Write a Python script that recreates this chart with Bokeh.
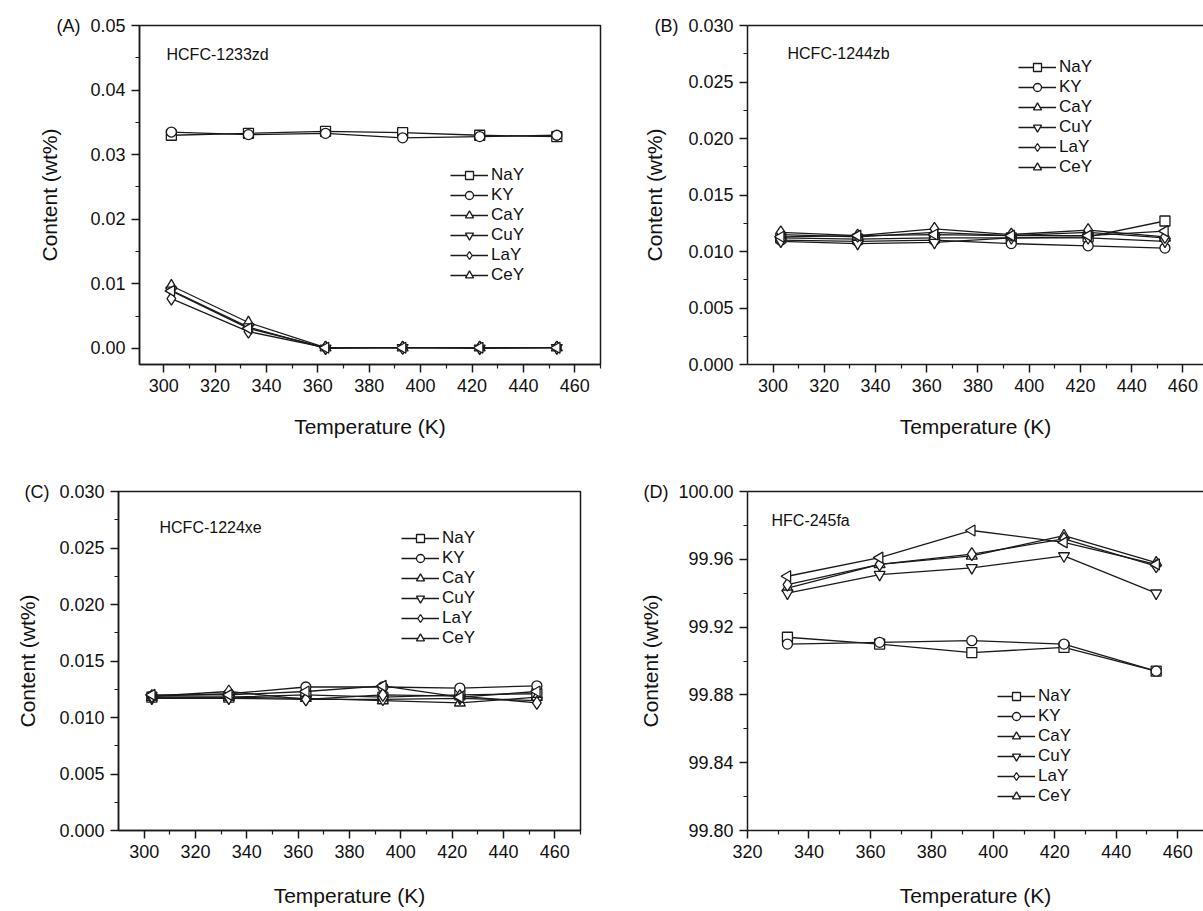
import math
from bokeh.plotting import figure
from bokeh.layouts import column, row
from bokeh.models import (FixedTicker, NumeralTickFormatter, Legend, LegendItem,
                          Label, LinearAxis, Range1d, ColumnDataSource)
from bokeh.embed import file_html
from bokeh.resources import INLINE

# ---------------- data ----------------
catalysts = ["NaY", "KY", "CaY", "CuY", "LaY", "CeY"]
compounds = ["HCFC-1233zd", "HCFC-1244zb", "HCFC-1224xe", "HFC-245fa"]
panel_tags = ["(A)", "(B)", "(C)", "(D)"]
x_title = "Temperature (K)"
y_title = "Content (wt%)"

temps_abc = [303, 333, 363, 393, 423, 453]
temps_d = [333, 363, 393, 423, 453]

# (A) HCFC-1233zd
a_nay = [0.0330, 0.0333, 0.0336, 0.0334, 0.0330, 0.0328]
a_ky = [0.0335, 0.0331, 0.0333, 0.0326, 0.0328, 0.0330]
a_cay = [0.0097, 0.0040, 0.0001, 0.0001, 0.0001, 0.0001]
a_cuy = [0.0090, 0.0033, 0.0000, 0.0001, 0.0000, 0.0001]
a_lay = [0.0077, 0.0026, 0.0001, 0.0001, 0.0001, 0.0001]
a_cey = [0.0089, 0.0031, 0.0001, 0.0001, 0.0001, 0.0001]

# (B) HCFC-1244zb
b_nay = [0.0112, 0.0111, 0.0112, 0.0112, 0.0113, 0.0127]
b_ky = [0.0110, 0.0109, 0.0110, 0.0107, 0.0105, 0.0103]
b_cay = [0.0115, 0.0113, 0.0117, 0.0114, 0.0117, 0.0112]
b_cuy = [0.0109, 0.0107, 0.0108, 0.0112, 0.0112, 0.0109]
b_lay = [0.0117, 0.0114, 0.0120, 0.0115, 0.0119, 0.0113]
b_cey = [0.0113, 0.0114, 0.0115, 0.0114, 0.0114, 0.0118]

# (C) HCFC-1224xe
c_nay = [0.0118, 0.0118, 0.0120, 0.0118, 0.0120, 0.0121]
c_ky = [0.0119, 0.0121, 0.0127, 0.0127, 0.0126, 0.0128]
c_cay = [0.0118, 0.0118, 0.0117, 0.0115, 0.0113, 0.0118]
c_cuy = [0.0117, 0.0117, 0.0116, 0.0116, 0.0117, 0.0115]
c_lay = [0.0119, 0.0123, 0.0116, 0.0120, 0.0119, 0.0113]
c_cey = [0.0120, 0.0120, 0.0123, 0.0128, 0.0118, 0.0123]

# (D) HFC-245fa
d_nay = [99.914, 99.910, 99.905, 99.908, 99.894]
d_ky = [99.910, 99.911, 99.912, 99.910, 99.894]
d_cay = [99.943, 99.957, 99.962, 99.974, 99.958]
d_cuy = [99.940, 99.951, 99.955, 99.962, 99.940]
d_lay = [99.945, 99.957, 99.963, 99.972, 99.956]
d_cey = [99.950, 99.961, 99.977, 99.970, 99.957]

# ticks
x_ticks_abc = [300, 320, 340, 360, 380, 400, 420, 440, 460]
x_minor_abc = [310, 330, 350, 370, 390, 410, 430, 450, 470]
x_ticks_d = [320, 340, 360, 380, 400, 420, 440, 460]
x_minor_d = [330, 350, 370, 390, 410, 430, 450, 470]
a_yticks = [0.00, 0.01, 0.02, 0.03, 0.04, 0.05]
a_yminor = [0.005, 0.015, 0.025, 0.035, 0.045]
bc_yticks = [0.000, 0.005, 0.010, 0.015, 0.020, 0.025, 0.030]
bc_yminor = [0.0025, 0.0075, 0.0125, 0.0175, 0.0225, 0.0275]
d_yticks = [99.80, 99.84, 99.88, 99.92, 99.96, 100.00]
d_yminor = [99.82, 99.86, 99.90, 99.94, 99.98]

# ---------------- styling ----------------
FONT = "Liberation Sans"
INK = "#1a1a1a"
TXT = "#111111"
NB = "\u00a0\u00a0"
MARKERS = [("square", 0.0, 10), ("circle", 0.0, 10), ("triangle", 0.0, 11),
           ("inverted_triangle", 0.0, 11), ("diamond", 0.0, 13),
           ("triangle", math.pi / 2, 11)]


def style_axis(ax, ticks, minor, fmt):
    ax.ticker = FixedTicker(ticks=ticks, minor_ticks=minor)
    ax.formatter = NumeralTickFormatter(format=fmt)
    ax.axis_line_color = INK
    ax.axis_line_width = 1.5
    ax.major_tick_line_color = INK
    ax.major_tick_line_width = 1.5
    ax.minor_tick_line_color = INK
    ax.minor_tick_line_width = 1.2
    ax.major_tick_out = 8
    ax.major_tick_in = 0
    ax.minor_tick_out = 4
    ax.minor_tick_in = 0
    ax.major_label_text_font = FONT
    ax.major_label_text_font_size = "18px"
    ax.major_label_text_color = TXT
    ax.major_label_standoff = 6
    ax.axis_label_text_font = FONT
    ax.axis_label_text_font_size = "21px"
    ax.axis_label_text_font_style = "normal"
    ax.axis_label_text_color = TXT


def make_panel(width, height, borders, xr, yr, temps, series, xt, xm, yt, ym,
               yfmt, top_label, cut_right, tag, compound, comp_pos,
               y_standoff, x_standoff, legend_pos):
    left, right, top, bottom = borders
    p = figure(width=width, height=height, output_backend="svg",
               toolbar_location=None, x_range=Range1d(*xr), y_range=Range1d(*yr),
               min_border_left=left, min_border_right=right,
               min_border_top=top, min_border_bottom=bottom)
    p.xgrid.visible = False
    p.ygrid.visible = False
    p.background_fill_color = "white"
    p.border_fill_color = "white"
    style_axis(p.xaxis[0], xt, xm, "0")
    style_axis(p.yaxis[0], yt, ym, yfmt)
    # panel tag shares the line of the top y tick label
    p.yaxis[0].major_label_overrides = {yt[-1]: tag + NB + top_label}
    p.yaxis[0].axis_label = y_title
    p.yaxis[0].axis_label_standoff = y_standoff
    p.xaxis[0].axis_label = x_title
    p.xaxis[0].axis_label_standoff = x_standoff
    if cut_right:
        p.outline_line_color = None
        top_ax = LinearAxis(ticker=FixedTicker(ticks=[]),
                            major_label_text_font_size="0px",
                            axis_line_color=INK, axis_line_width=1.5,
                            major_tick_line_color=None, minor_tick_line_color=None)
        p.add_layout(top_ax, "above")
    else:
        p.outline_line_color = INK
        p.outline_line_width = 1.5
        p.outline_line_alpha = 1.0

    fw = width - left - right
    fh = height - top - bottom

    items = []
    for name, vals, (mk, ang, sz) in zip(catalysts, series, MARKERS):
        src = ColumnDataSource(dict(t=temps, v=vals))
        ln = p.line("t", "v", source=src, line_color=INK, line_width=1.3)
        sc = p.scatter("t", "v", source=src, marker=mk, angle=ang, size=sz,
                       fill_color="white", line_color=INK, line_width=1.3)
        items.append(LegendItem(label=name, renderers=[ln, sc]))

    leg = Legend(items=items, location=legend_pos, border_line_color=None,
                 background_fill_alpha=0, padding=0, margin=0, spacing=0,
                 glyph_height=20, glyph_width=38, label_height=20,
                 label_standoff=3, label_text_font=FONT,
                 label_text_font_size="17px", label_text_color=TXT)
    p.add_layout(leg)

    cx = xr[0] + comp_pos[0] * (xr[1] - xr[0]) / fw
    cy = yr[1] - comp_pos[1] * (yr[1] - yr[0]) / fh
    p.add_layout(Label(x=cx, y=cy, text=compound, text_font=FONT,
                       text_font_size="16px", text_align="left",
                       text_baseline="middle", text_color=TXT))
    return p


pA = make_panel(620, 460, (139, 20, 24, 96), (290.6, 470.0), (-0.0025, 0.05),
                temps_abc, [a_nay, a_ky, a_cay, a_cuy, a_lay, a_cey],
                x_ticks_abc, x_minor_abc, a_yticks, a_yminor, "0.00", "0.05",
                False, panel_tags[0], compounds[0], (27, 29), -8, 20, (311, 79))

pB = make_panel(583, 460, (127, 0, 25, 96), (290.0, 468.05), (0.0, 0.030),
                temps_abc, [b_nay, b_ky, b_cay, b_cuy, b_lay, b_cey],
                x_ticks_abc, x_minor_abc, bc_yticks, bc_yminor, "0.000", "0.030",
                True, panel_tags[1], compounds[1], (40, 28), -15, 20, (271, 187))

pC = make_panel(620, 451, (118, 40, 30, 81), (290.0, 470.0), (0.0, 0.030),
                temps_abc, [c_nay, c_ky, c_cay, c_cuy, c_lay, c_cey],
                x_ticks_abc, x_minor_abc, bc_yticks, bc_yminor, "0.000", "0.030",
                False, panel_tags[2], compounds[2], (41, 36), -18, 23, (283, 182))

pD = make_panel(583, 451, (127, 0, 31, 80), (320.0, 468.4), (99.80, 100.00),
                temps_d, [d_nay, d_ky, d_cay, d_cuy, d_lay, d_cey],
                x_ticks_d, x_minor_d, d_yticks, d_yminor, "0.00", "100.00",
                True, panel_tags[3], compounds[3], (24, 29), -22, 23, (250, 24))

layout = column(row(pA, pB), row(pC, pD))
open("out.html", "w").write(file_html(layout, INLINE))
